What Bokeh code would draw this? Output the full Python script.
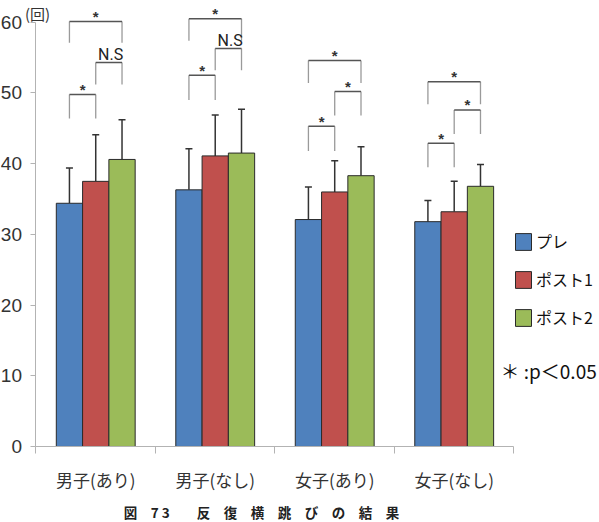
from bokeh.plotting import figure
from bokeh.models import (Range1d, FixedTicker, Whisker, TeeHead, ColumnDataSource,
                          Label, Legend, LegendItem)
from bokeh.core.properties import value
from bokeh.embed import file_html
from bokeh.resources import INLINE

# ---- data -------------------------------------------------------------
groups = ["男子(あり)", "男子(なし)", "女子(あり)", "女子(なし)"]
series = ["プレ", "ポスト1", "ポスト2"]
colors = ["#4F81BD", "#C0504D", "#9BBB59"]

pre = [34.4, 36.3, 32.1, 31.8]
post1 = [37.5, 41.1, 36.0, 33.2]
post2 = [40.6, 41.5, 38.3, 36.8]

pre_sd = [5.0, 5.8, 4.6, 3.0]
post1_sd = [6.6, 5.8, 4.4, 4.3]
post2_sd = [5.6, 6.2, 4.1, 3.1]

y_ticks = [0, 10, 20, 30, 40, 50, 60]

# significance brackets: group, first bar, second bar, bar-top level, leg end, mark
bracket_group = [0, 0, 0, 1, 1, 1, 2, 2, 2, 3, 3, 3]
bracket_from = [0, 1, 0, 0, 1, 0, 0, 1, 0, 0, 1, 0]
bracket_to = [1, 2, 2, 1, 2, 2, 1, 2, 2, 1, 2, 2]
bracket_top = [49.8, 54.3, 60.1, 52.5, 56.3, 60.5, 45.3, 50.2, 54.6, 42.9, 47.6, 51.6]
bracket_leg = [46.4, 51.2, 57.1, 49.0, 53.2, 57.4, 41.8, 46.8, 51.4, 39.5, 44.2, 48.4]
bracket_mark = ["*", "N.S", "*", "*", "N.S", "*", "*", "*", "*", "*", "*", "*"]

unit_label = "(回)"
note_text = "＊ :p＜0.05"
caption = "図　7 3　　反　復　横　跳　び　の　結　果"

# ---- figure -----------------------------------------------------------
SANS = "Liberation Sans"
JP = "Noto Sans CJK JP"

# the frame fills the whole canvas; axes are pinned at x=0 / y=0
p = figure(width=599, height=522,
           x_range=Range1d(-0.297, 4.716), y_range=Range1d(-10.75, 63.08),
           output_backend="svg", toolbar_location=None,
           min_border_left=0, min_border_right=0, min_border_top=0, min_border_bottom=0)
p.outline_line_color = None
p.grid.visible = False
p.background_fill_color = "white"

BAR_W = 0.22
offsets = [-BAR_W, 0.0, BAR_W]


def bar_x(g, j):
    return g + 0.5 + offsets[j]


items = []
for j, (name, col, m, s) in enumerate(zip(series, colors, [pre, post1, post2],
                                          [pre_sd, post1_sd, post2_sd])):
    src = ColumnDataSource(dict(
        x=[bar_x(g, j) for g in range(len(groups))],
        top=m,
        upper=[a + b for a, b in zip(m, s)],
    ))
    r = p.vbar(x="x", top="top", width=BAR_W, source=src,
               fill_color=col, line_color="#2a2a2a", line_width=1)
    items.append(LegendItem(label=name, renderers=[r]))
    p.add_layout(Whisker(source=src, base="x", lower="top", upper="upper",
                         line_color="#333333", line_width=1.5, lower_head=None,
                         upper_head=TeeHead(size=7, line_color="#333333", line_width=1.5)))

# brackets
bx0 = [bar_x(g, a) for g, a in zip(bracket_group, bracket_from)]
bx1 = [bar_x(g, b) for g, b in zip(bracket_group, bracket_to)]
p.segment(x0=bx0 + bx1, y0=bracket_leg + bracket_leg, x1=bx0 + bx1, y1=bracket_top + bracket_top,
          line_color="#9a9a9a", line_width=1.3)
p.segment(x0=bx0, y0=bracket_top, x1=bx1, y1=bracket_top, line_color="#555555", line_width=1.5)

mid = [(a + b) / 2 for a, b in zip(bx0, bx1)]
star_idx = [i for i, t in enumerate(bracket_mark) if t == "*"]
ns_idx = [i for i, t in enumerate(bracket_mark) if t != "*"]
p.text(x=[mid[i] for i in star_idx], y=[bracket_top[i] for i in star_idx],
       text=[bracket_mark[i] for i in star_idx], text_align="center",
       text_baseline="alphabetic", y_offset=-5, text_font=value(SANS),
       text_font_size="15px", text_font_style="bold", text_color="#333333")
p.text(x=[mid[i] + 0.015 for i in ns_idx], y=[bracket_top[i] for i in ns_idx],
       text=[bracket_mark[i] for i in ns_idx], text_align="center",
       text_baseline="alphabetic", y_offset=-8, text_font=value("Roboto"),
       text_font_size="16px", text_color="#222222")

# axes
yax = p.yaxis[0]
yax.fixed_location = 0
yax.ticker = FixedTicker(ticks=y_ticks)
yax.bounds = (0, 60)
yax.axis_line_color = "#b3b3b3"
yax.major_tick_line_color = "#b3b3b3"
yax.major_tick_out = 5
yax.major_tick_in = 0
yax.minor_tick_line_color = None
yax.major_label_standoff = 9
yax.major_label_text_font = SANS
yax.major_label_text_font_size = "19px"
yax.major_label_text_color = "#333333"

xax = p.xaxis[0]
xax.fixed_location = 0
centers = [g + 0.5 for g in range(len(groups))]
xax.ticker = FixedTicker(ticks=centers, minor_ticks=list(range(len(groups) + 1)))
xax.major_label_overrides = {c: g for c, g in zip(centers, groups)}
xax.bounds = (0, len(groups))
xax.axis_line_color = "#b3b3b3"
xax.major_tick_line_color = None
xax.major_tick_out = 0
xax.major_tick_in = 0
xax.minor_tick_line_color = "#b3b3b3"
xax.minor_tick_out = 7
xax.minor_tick_in = 0
xax.major_label_standoff = 14
xax.major_label_text_font = JP
xax.major_label_text_font_size = "17px"
xax.major_label_text_color = "#333333"

# legend
legend = Legend(items=items, location=(513, 193), orientation="vertical",
                glyph_width=20, glyph_height=21, label_height=21, spacing=14,
                padding=0, margin=0, label_standoff=3,
                border_line_alpha=0, background_fill_alpha=0,
                label_text_font=JP, label_text_font_size="16px",
                label_text_color="#111111")
p.add_layout(legend)

# texts around the plot (screen px from the canvas' bottom-left)
p.add_layout(Label(x=37, y=509, x_units="screen", y_units="screen", text=unit_label,
                   text_align="center", text_baseline="alphabetic",
                   text_font=JP, text_font_size="15px", text_color="#333333"))
p.add_layout(Label(x=500, y=152, x_units="screen", y_units="screen", text=note_text,
                   text_align="left", text_baseline="middle",
                   text_font=JP, text_font_size="19px", text_color="#111111"))
p.add_layout(Label(x=261, y=10.5, x_units="screen", y_units="screen", text=caption,
                   text_align="center", text_baseline="middle",
                   text_font=JP, text_font_size="13.5px", text_font_style="bold",
                   text_color="#222222"))

open("out.html", "w").write(file_html(p, INLINE))
